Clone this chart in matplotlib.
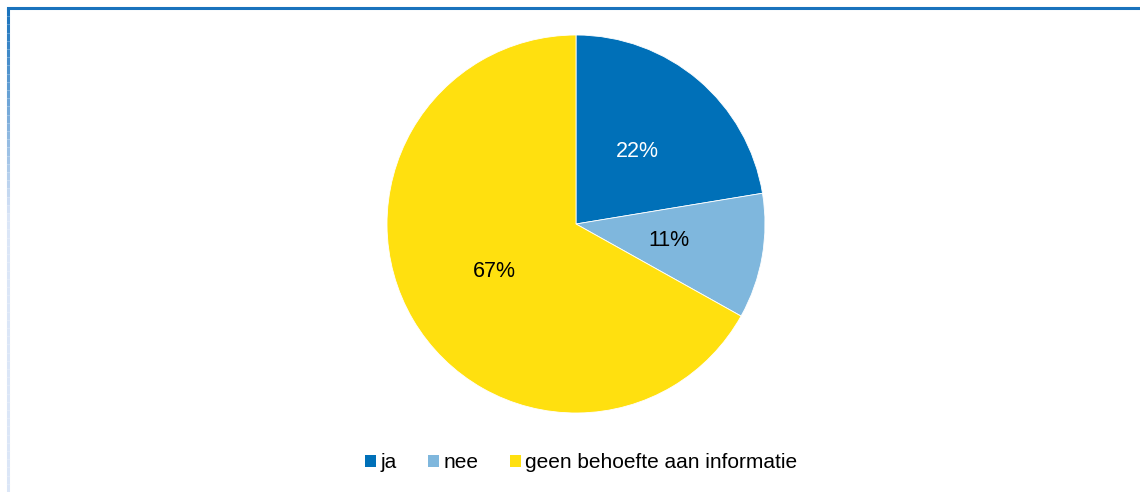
import numpy as np
import matplotlib.pyplot as plt
from matplotlib.patches import Patch
from matplotlib.collections import LineCollection

labels = ['ja', 'nee', 'geen behoefte aan informatie']
values = [22.4, 10.7, 66.9]
colors = ['#0070B8', '#7FB7DD', '#FFE00F']
text_colors = ['white', 'black', 'black']

fig = plt.figure(figsize=(11.4, 4.92), dpi=100)
plt.rcParams['font.family'] = ['Liberation Sans', 'DejaVu Sans']

# frame: blue top line, left line fading downwards
fig.add_artist(plt.Line2D([8 / 1140, 1.0], [1 - 8 / 492] * 2, color='#1A73BD', lw=2.2,
                          transform=fig.transFigure))
ys = np.linspace(1 - 8 / 492, 0, 60)
segs = [[(8 / 1140, ys[i]), (8 / 1140, ys[i + 1])] for i in range(len(ys) - 1)]
top_c = np.array([0.10, 0.45, 0.74])
bot_c = np.array([0.86, 0.90, 0.97])
seg_cols = [tuple(top_c + (bot_c - top_c) * min(1, i / 25)) for i in range(len(segs))]
fig.add_artist(LineCollection(segs, colors=seg_cols, linewidths=2.2, transform=fig.transFigure))

r = 189
ax = fig.add_axes([(576 - r) / 1140, (492 - 224 - r) / 492, 2 * r / 1140, 2 * r / 492])
wedges, texts, autotexts = ax.pie(values, colors=colors, startangle=90, counterclock=False,
                                  autopct='%1.0f%%', pctdistance=0.5,
                                  wedgeprops=dict(linewidth=0.6, edgecolor='white'),
                                  textprops=dict(fontsize=15.5))
for t, c in zip(autotexts, text_colors):
    t.set_color(c)
ax.set_xlim(-1, 1)
ax.set_ylim(-1, 1)
ax.set_aspect('equal')

handles = [Patch(facecolor=c, edgecolor='none') for c in colors]
fig.legend(handles, labels, loc='center', bbox_to_anchor=(581 / 1140, 1 - 463 / 492), ncol=3,
           frameon=False, fontsize=15, handlelength=0.55, handleheight=0.55,
           handletextpad=0.2, columnspacing=1.5)

fig.savefig('out.png', dpi=100)
